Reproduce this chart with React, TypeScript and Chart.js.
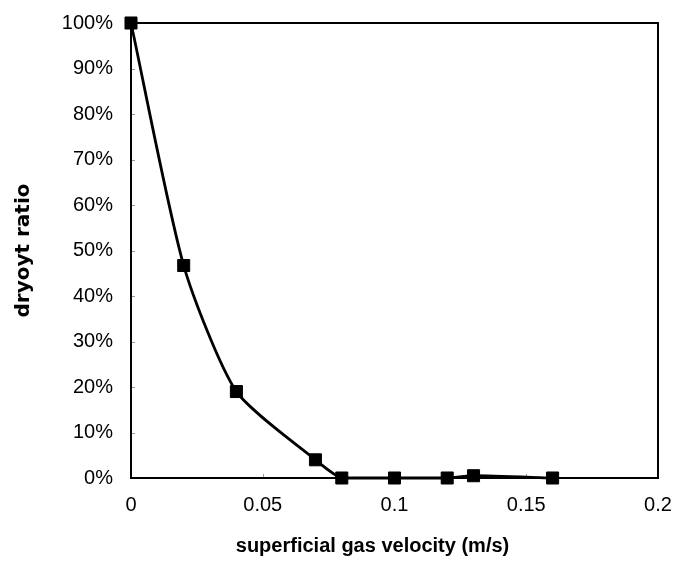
import React, { useEffect, useRef } from "react";
import { Chart, registerables } from "chart.js";

Chart.register(...registerables);

const velocities = [0, 0.02, 0.04, 0.07, 0.08, 0.1, 0.12, 0.13, 0.16];
const ratios = [1.0, 0.467, 0.19, 0.04, 0.0, 0.0, 0.0, 0.005, 0.0];
const xTitle = "superficial gas velocity (m/s)";
const yTitle = "dryoyt ratio";

const framePlugin = {
  id: "frameTicks",
  beforeDatasetsDraw(chart: any) {
    const { ctx, chartArea } = chart;
    const { left, right, top, bottom } = chartArea;
    ctx.save();
    ctx.strokeStyle = "#999";
    ctx.lineWidth = 1;
    const xs = chart.scales.x;
    const ys = chart.scales.y;
    xs.ticks.forEach((t: any) => {
      const px = Math.round(xs.getPixelForValue(t.value)) + 0.5;
      ctx.beginPath();
      ctx.moveTo(px, bottom);
      ctx.lineTo(px, bottom - 4);
      ctx.stroke();
    });
    ys.ticks.forEach((t: any) => {
      const py = Math.round(ys.getPixelForValue(t.value)) + 0.5;
      ctx.beginPath();
      ctx.moveTo(left, py);
      ctx.lineTo(left + 4, py);
      ctx.stroke();
    });
    ctx.strokeStyle = "#000";
    ctx.lineWidth = 2;
    ctx.strokeRect(left, top, right - left, bottom - top);
    ctx.restore();
  },
  afterDraw(chart: any) {
    const { ctx, chartArea } = chart;
    ctx.save();
    ctx.fillStyle = "#000";
    ctx.font = "bold 20px 'Liberation Sans', Arial, sans-serif";
    ctx.textAlign = "center";
    ctx.textBaseline = "middle";
    const cx = (chartArea.left + chartArea.right) / 2 - 22;
    ctx.fillText(xTitle, cx, 546);
    ctx.restore();
  },
};

const tickFont = { family: "'Liberation Sans', Arial, sans-serif", size: 20 };

export default function App() {
  const ref = useRef<HTMLCanvasElement>(null);
  useEffect(() => {
    if (!ref.current) return;
    const chart = new Chart(ref.current, {
      type: "line",
      data: {
        datasets: [
          {
            data: velocities.map((v, i) => ({ x: v, y: ratios[i] })),
            borderColor: "#000",
            backgroundColor: "#000",
            borderWidth: 2.8,
            tension: 0.22,
            pointStyle: "rect",
            pointRadius: 8.5,
            pointBorderWidth: 1,
            pointBackgroundColor: "#000",
            pointBorderColor: "#000",
            clip: false as any,
          },
        ],
      },
      options: {
        responsive: false,
        animation: false,
        layout: { padding: { top: 23, right: 20, left: 0, bottom: 0 } },
        plugins: { legend: { display: false }, tooltip: { enabled: false } },
        scales: {
          x: {
            type: "linear",
            min: 0,
            max: 0.2,
            grid: { display: false, drawTicks: false },
            border: { display: false },
            afterFit: (s: any) => {
              s.height = 86;
              s.paddingRight = 0;
              s.paddingLeft = 0;
            },
            ticks: {
              stepSize: 0.05,
              padding: 15,
              maxRotation: 0,
              color: "#000",
              font: tickFont,
              callback: (v: any) => String(Number(Number(v).toFixed(2))),
            },
            title: { display: false },
          },
          y: {
            type: "linear",
            min: 0,
            max: 1,
            grid: { display: false, drawTicks: false },
            border: { display: false },
            afterFit: (s: any) => {
              s.width = 131;
              s.paddingTop = 0;
              s.paddingBottom = 0;
            },
            ticks: {
              stepSize: 0.1,
              padding: 18,
              color: "#000",
              font: tickFont,
              callback: (v: any) => Math.round(Number(v) * 100) + "%",
            },
            title: {
              display: true,
              text: yTitle,
              color: "#000",
              padding: { top: 12, bottom: 0 },
              font: { family: "'DejaVu Sans', sans-serif", size: 20, weight: "bold" },
            },
          },
        },
      },
      plugins: [framePlugin],
    });
    return () => chart.destroy();
  }, []);
  return (
    <div style={{ position: "fixed", left: 0, top: 0, width: 678, height: 564, background: "#fff" }}>
      <canvas ref={ref} width={678} height={564} style={{ width: 678, height: 564 }} />
    </div>
  );
}
